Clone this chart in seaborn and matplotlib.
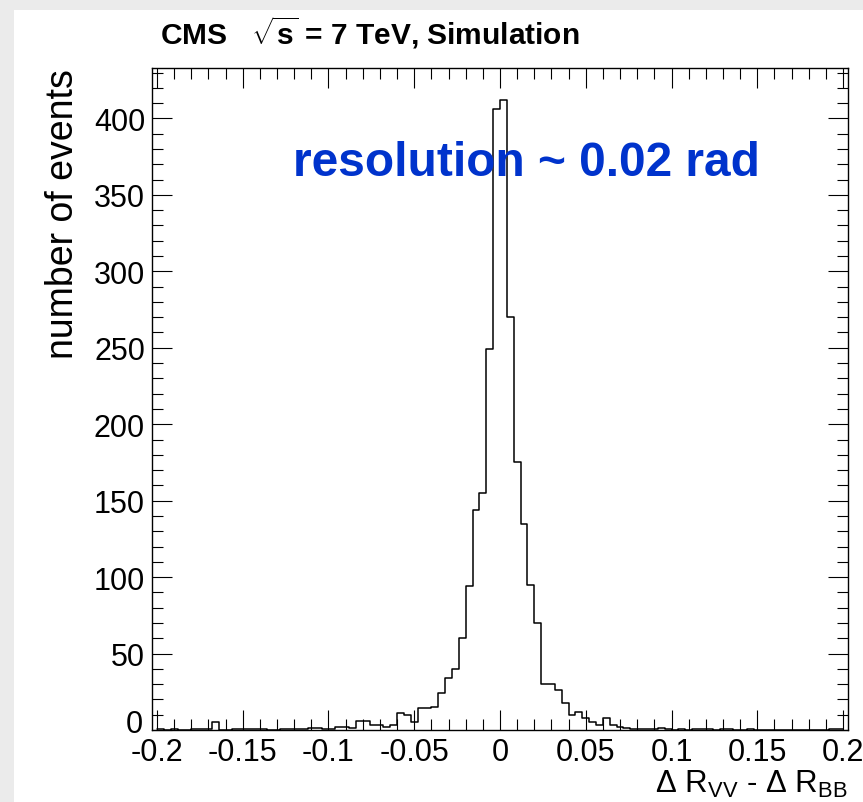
import numpy as np
import pandas as pd
import matplotlib
matplotlib.use("Agg")
import matplotlib.pyplot as plt
import matplotlib.transforms as mtransforms
import seaborn as sns
from matplotlib.ticker import MultipleLocator
from matplotlib.patches import Rectangle

# ---------------- data ----------------
bin_lo = -0.2
bin_hi = 0.2
n_bins = 100
counts = [
    0.6, 0, 0.6, 0, 0, 0.6, 0.6, 0.6, 5, 0,
    0, 0.6, 0.6, 0.6, 0.6, 0.6, 0, 0, 0.6, 0.6,
    0.6, 0.6, 1.3, 1.3, 0.6, 0.6, 1.7, 2.2, 1.3, 6,
    5.7, 3.5, 3.5, 2.2, 3.5, 11, 9.5, 5, 14.5, 14.5,
    15, 24, 34, 40, 60, 94, 144, 155, 249, 406,
    412, 270, 175, 135, 95, 70, 30, 30, 26, 17.5,
    10, 12, 8, 5, 3, 8, 3, 2, 1, 0.5,
    0.5, 0.5, 0.5, 1.5, 0.5, 0, 0.5, 0, 0.5, 0.5,
    0.5, 0, 0.5, 0.5, 0, 0, 0.5, 0, 0, 0,
    0, 0, 0, 0, 0, 0, 0, 0, 0.5, 0.5,
]
x_ticks = [-0.2, -0.15, -0.1, -0.05, 0.0, 0.05, 0.1, 0.15, 0.2]
x_tick_labels = ["-0.2", "-0.15", "-0.1", "-0.05", "0", "0.05", "0.1", "0.15", "0.2"]
y_ticks = [0, 50, 100, 150, 200, 250, 300, 350, 400]
y_tick_labels = ["0", "50", "100", "150", "200", "250", "300", "350", "400"]

# ---------------- style ----------------
sns.set_theme(style="ticks")
plt.rcParams['font.family'] = ['Liberation Sans', 'DejaVu Sans']
plt.rcParams['mathtext.fontset'] = 'custom'
plt.rcParams['mathtext.rm'] = 'Liberation Sans'
plt.rcParams['mathtext.bf'] = 'Liberation Sans:bold'
plt.rcParams['mathtext.it'] = 'Liberation Sans:italic'

W, H = 863, 803
fig = plt.figure(figsize=(W / 100, H / 100), dpi=100)
fig.patch.set_facecolor("white")
# slide background strips
fig.patches.append(Rectangle((0, 1 - 11 / H), 1, 11 / H, transform=fig.transFigure,
                             facecolor="#ebebeb", edgecolor="none", zorder=0))
fig.patches.append(Rectangle((0, 0), 14 / W, 1, transform=fig.transFigure,
                             facecolor="#ebebeb", edgecolor="none", zorder=0))

ax = fig.add_axes([152 / W, 1 - 731 / H, 696 / W, 662 / H])

edges = np.linspace(bin_lo, bin_hi, n_bins + 1)
centers = (edges[:-1] + edges[1:]) / 2
df = pd.DataFrame({"dR": centers, "events": counts})
sns.histplot(data=df, x="dR", weights="events", bins=n_bins, binrange=(bin_lo, bin_hi),
             element="step", fill=False, color="black", linewidth=1.1, ax=ax)

ax.set_xlim(-0.2029, 0.2029)
ax.set_ylim(0, 433)

ax.set_xticks(x_ticks)
ax.set_xticklabels(x_tick_labels)
ax.set_yticks(y_ticks)
ax.set_yticklabels(y_tick_labels)
ax.xaxis.set_minor_locator(MultipleLocator(0.01))
ax.yaxis.set_minor_locator(MultipleLocator(10))
ax.tick_params(which="both", direction="in", top=True, right=True, colors="black",
               labelsize=22, width=0.8)
ax.tick_params(which="major", length=14.5)
ax.tick_params(axis="x", which="major", pad=5)
ax.tick_params(axis="y", which="major", pad=5)
ax.tick_params(which="minor", length=8)
for s in ax.spines.values():
    s.set_linewidth(1.0)
    s.set_color("black")

# nudge the "0" on the y axis upward so it sits just above the "-0.2" label
zero_lbl = ax.yaxis.get_major_ticks()[0].label1
zero_lbl.set_transform(zero_lbl.get_transform() +
                       mtransforms.ScaledTranslation(-2 / 100, 9 / 100, fig.dpi_scale_trans))

ax.set_ylabel("number of events", fontsize=27, loc="top", labelpad=9, color="black")
ax.set_xlabel(r"$\Delta$ R$_{\rm VV}$ - $\Delta$ R$_{\rm BB}$", fontsize=22.5, loc="right",
              labelpad=1, color="black")

fig.text(160 / W, 1 - 33 / H, r"CMS   $\mathbf{\sqrt{s}}$ = 7 TeV, Simulation",
         fontsize=21.5, fontweight="bold", va="center", ha="left", color="black")
fig.text(293 / W, 1 - 163 / H, "resolution ~ 0.02 rad", fontsize=34.5, fontweight="bold",
         color="#0033cc", va="center", ha="left")

fig.savefig("out.png", dpi=100)
